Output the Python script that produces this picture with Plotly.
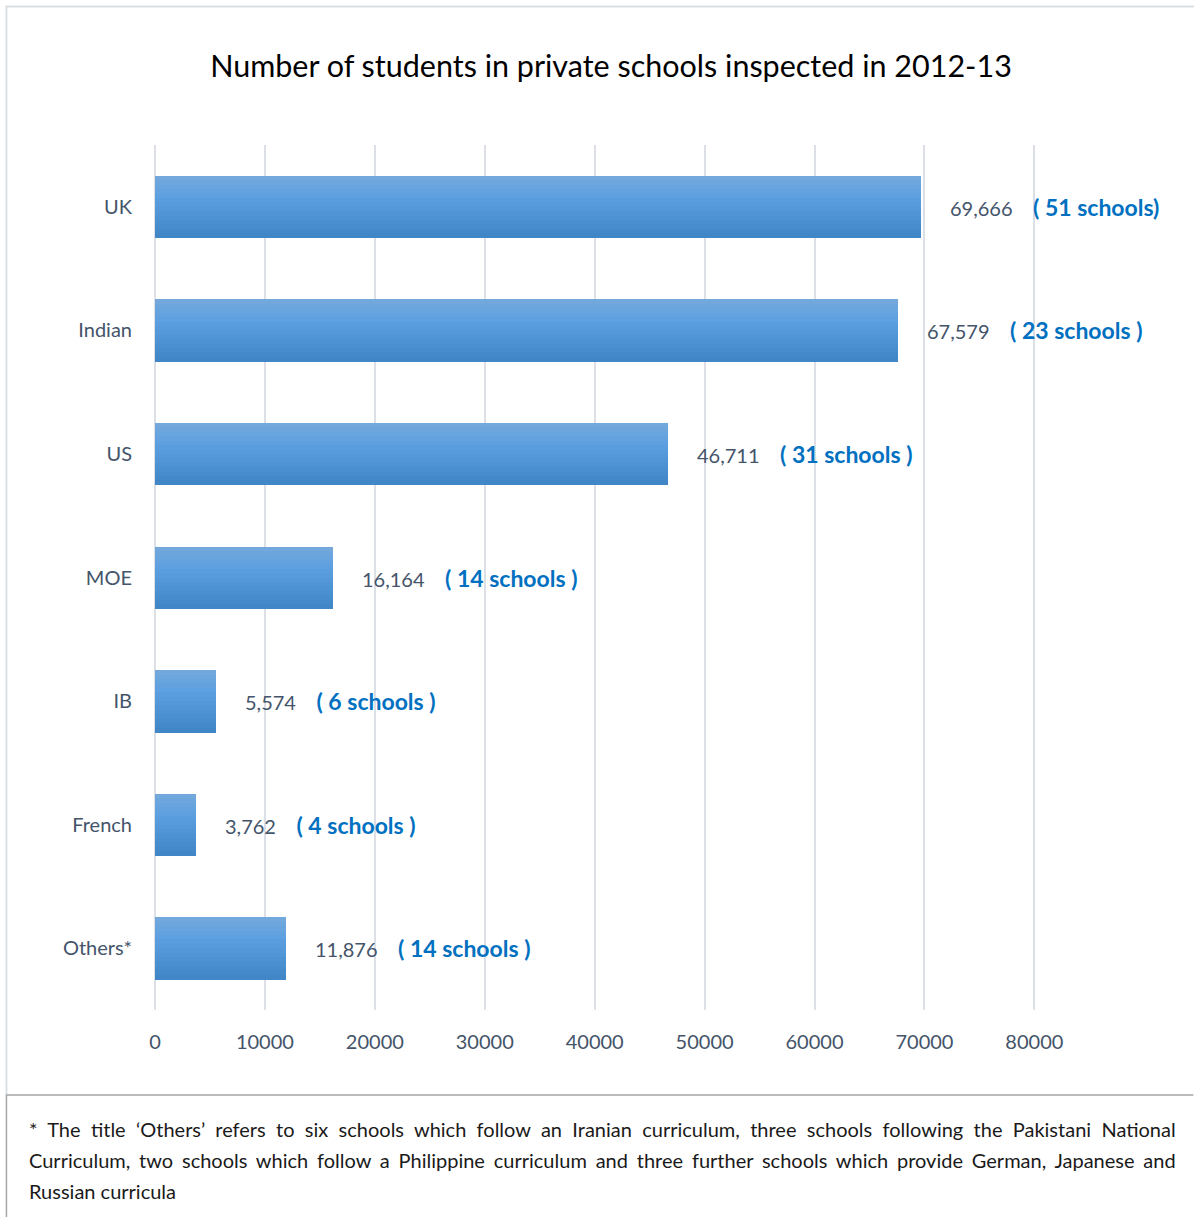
import plotly.graph_objects as go

# Chart data
curricula = ["UK", "Indian", "US", "MOE", "IB", "French", "Others*"]
students = [69666, 67579, 46711, 16164, 5574, 3762, 11876]
school_labels = ["( 51 schools)", "( 23 schools )", "( 31 schools )", "( 14 schools )",
                 "( 6 schools )", "( 4 schools )", "( 14 schools )"]
x_ticks = [0, 10000, 20000, 30000, 40000, 50000, 60000, 70000, 80000]

title_text = "Number of students in private schools inspected in 2012-13"
footnote_lines = [
    "* The title ‘Others’ refers to six schools which follow an Iranian curriculum, three schools following the Pakistani National",
    "Curriculum, two schools which follow a Philippine curriculum and three further schools which provide German, Japanese and",
    "Russian curricula",
]
# extra word spacing (px) so the first two footnote lines run the full width
footnote_word_spacing = [5.2, 3.7, 0]

W, H = 1194, 1217
X_MAX = 80150            # a little past the last gridline so it is not clipped
L, T, B = 155, 145, 1010
R = L + 879 * X_MAX / 80000
FONT = "Lato, 'Noto Sans', sans-serif"
TEXT_GREY = "#44546a"
LABEL_BLUE = "#0070c0"
GRID = "#dcdfe6"


def px2x(px):
    return (px - L) / (R - L)


def py2y(py):
    return (B - py) / (B - T)


def mix(c1, c2, t):
    a = [int(c1[i:i + 2], 16) for i in (1, 3, 5)]
    b = [int(c2[i:i + 2], 16) for i in (1, 3, 5)]
    return "#%02x%02x%02x" % tuple(round(a[k] + (b[k] - a[k]) * t) for k in range(3))


fig = go.Figure()

# Bars drawn as horizontal strips to give the vertical light-to-dark gradient
bar_w = 0.5
n_strips = 14
stops = [(0.0, "#74a9dc"), (0.35, "#5c9fe0"), (1.0, "#3f86c7")]
for k in range(n_strips):
    t = (k + 0.5) / n_strips
    for (t0, c0), (t1, c1) in zip(stops[:-1], stops[1:]):
        if t0 <= t <= t1:
            col = mix(c0, c1, (t - t0) / (t1 - t0))
    sw = bar_w / n_strips
    fig.add_trace(go.Bar(
        y=curricula, x=students, orientation="h",
        width=sw * 1.15, offset=-bar_w / 2 + k * sw,
        marker=dict(color=col, line=dict(width=0)),
        hoverinfo="skip", showlegend=False,
    ))

# Value + school-count labels
for cat, val, lab in zip(curricula, students, school_labels):
    fig.add_annotation(
        x=val, y=cat, xref="x", yref="y", xanchor="left", yanchor="middle",
        xshift=27, showarrow=False,
        text=(f"<span style='color:{TEXT_GREY}'>{val:,}</span>&nbsp;&nbsp;&nbsp;&nbsp;"
              f"<span style='color:{LABEL_BLUE};font-size:23px'><b>{lab}</b></span>"),
        font=dict(family=FONT, size=20, color=TEXT_GREY),
    )

# Footnote
for i, (line, ws) in enumerate(zip(footnote_lines, footnote_word_spacing)):
    fig.add_annotation(
        x=px2x(27), y=py2y(1129 + 31 * i), xref="paper", yref="paper",
        xanchor="left", yanchor="middle", showarrow=False,
        text=f"<span style='word-spacing:{ws}px'>{line}</span>",
        font=dict(family=FONT, size=20, color="#1a1a1a"),
    )

# Frame lines
fig.add_shape(type="line", xref="paper", yref="paper",
              x0=px2x(6), x1=px2x(W), y0=py2y(6.5), y1=py2y(6.5),
              line=dict(color="#dadfe6", width=2))
fig.add_shape(type="line", xref="paper", yref="paper",
              x0=px2x(6.5), x1=px2x(6.5), y0=py2y(6), y1=py2y(1095),
              line=dict(color="#dadfe6", width=2))
fig.add_shape(type="line", xref="paper", yref="paper",
              x0=px2x(6.5), x1=px2x(6.5), y0=py2y(1095), y1=py2y(H),
              line=dict(color="#a6a6a6", width=1.5))
fig.add_shape(type="line", xref="paper", yref="paper",
              x0=px2x(6), x1=px2x(1193), y0=py2y(1095), y1=py2y(1095),
              line=dict(color="#a6a6a6", width=1.5))

fig.update_layout(
    width=W, height=H,
    margin=dict(l=L, r=W - R, t=T, b=H - B, pad=0),
    paper_bgcolor="white", plot_bgcolor="white",
    barmode="overlay", bargap=0,
    title=dict(text=title_text, x=611 / W, xanchor="center",
               y=1 - 66 / H, yanchor="middle", xref="container", yref="container",
               font=dict(family=FONT, size=30.5, color="#000000")),
    xaxis=dict(range=[0, X_MAX], tickvals=x_ticks, ticktext=[str(v) for v in x_ticks],
               showgrid=True, gridcolor=GRID, gridwidth=2,
               zeroline=True, zerolinecolor=GRID, zerolinewidth=2,
               showline=False, ticks="", ticklabelstandoff=18,
               tickfont=dict(family=FONT, size=20, color=TEXT_GREY)),
    yaxis=dict(categoryorder="array", categoryarray=curricula, autorange="reversed",
               showgrid=False, zeroline=False, showline=False, ticks="",
               ticklabelstandoff=22,
               tickfont=dict(family=FONT, size=20, color=TEXT_GREY)),
    font=dict(family=FONT),
)

fig.write_html("out.html")
